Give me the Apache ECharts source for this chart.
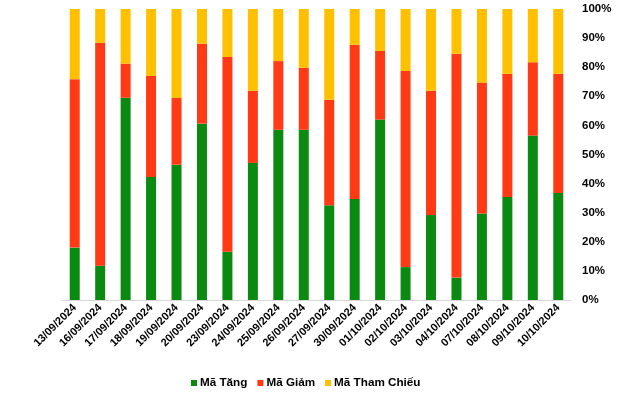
<!DOCTYPE html>
<html>
<head>
<meta charset="utf-8">
<script src="https://cdn.jsdelivr.net/npm/echarts@6/dist/echarts.min.js"></script>
<style>html,body{margin:0;padding:0;background:#fff}#c{width:640px;height:393px}</style>
</head>
<body>
<div id="c"></div>
<script>
const categories = ["13/09/2024","16/09/2024","17/09/2024","18/09/2024","19/09/2024","20/09/2024","23/09/2024","24/09/2024","25/09/2024","26/09/2024","27/09/2024","30/09/2024","01/10/2024","02/10/2024","03/10/2024","04/10/2024","07/10/2024","08/10/2024","09/10/2024","10/10/2024"];
const maTang = [18.0,11.8,69.5,42.3,46.5,60.6,16.6,47.1,58.5,58.5,32.6,34.7,62.0,11.3,29.2,7.7,29.7,35.4,56.5,36.8];
const maGiam = [57.9,76.6,11.7,34.7,22.9,27.5,66.9,24.8,23.6,21.3,36.2,53.0,23.6,67.4,42.7,76.9,45.0,42.3,25.2,40.9];
const maThamChieu = [24.1,11.6,18.8,23.0,30.6,11.9,16.5,28.1,17.9,20.2,31.2,12.3,14.4,21.3,28.1,15.4,25.3,22.3,18.3,22.3];
const yTicks = [0,10,20,30,40,50,60,70,80,90,100];

const font = '"Liberation Sans", Arial, sans-serif';
const chart = echarts.init(document.getElementById('c'), null, {renderer: 'canvas'});
const mk = (name, data, color) => ({
  name, type: 'bar', stack: 'total', data, barWidth: 10,
  itemStyle: {color}, emphasis: {disabled: true}
});
chart.setOption({
  animation: false,
  backgroundColor: '#fff',
  grid: {left: 62, right: 69, top: 9, bottom: 93, containLabel: false},
  legend: {
    top: 372, left: 186, itemWidth: 6, itemHeight: 6, itemGap: 10,
    icon: 'rect',
    textStyle: {fontFamily: font, fontSize: 11.7, fontWeight: 'bold', color: '#000', padding: [0,0,0,-2]},
    data: ['Mã Tăng', 'Mã Giảm', 'Mã Tham Chiếu']
  },
  xAxis: {
    type: 'category', data: categories,
    axisLine: {lineStyle: {color: '#d9d9d9', width: 1}},
    axisTick: {show: false},
    axisLabel: {rotate: 45, interval: 0, margin: 6, fontFamily: font, fontSize: 11, fontWeight: 'bold', color: '#000'}
  },
  yAxis: {
    type: 'value', position: 'right', min: yTicks[0], max: yTicks[yTicks.length-1], interval: 10,
    splitLine: {show: false}, axisLine: {show: false}, axisTick: {show: false},
    axisLabel: {margin: 11, fontFamily: font, fontSize: 11.5, fontWeight: 'bold', color: '#000', formatter: v => v + '%'}
  },
  series: [
    mk('Mã Tăng', maTang, '#0B8A12'),
    mk('Mã Giảm', maGiam, '#FF3A14'),
    mk('Mã Tham Chiếu', maThamChieu, '#FFC000')
  ]
});
</script>
</body>
</html>
